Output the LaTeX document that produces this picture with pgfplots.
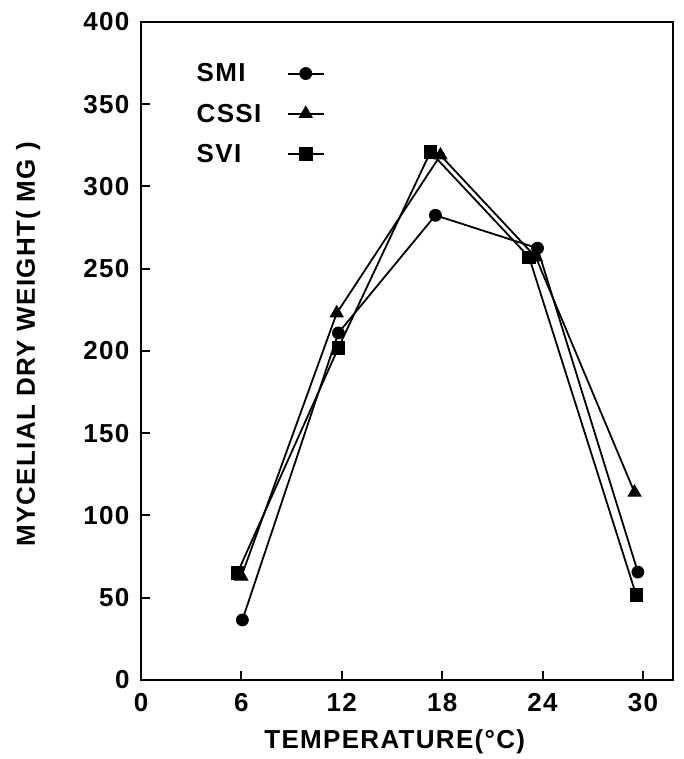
\documentclass[border=0pt]{standalone}
\usepackage{fontspec}
\setmainfont{Liberation Sans}[LetterSpace=5]
\usepackage{pgfplots}
\pgfplotsset{compat=1.18}
\begin{document}
\begin{tikzpicture}
\begin{axis}[
  name=ax,
  scale only axis,
  width=532pt, height=658pt,
  xmin=0, xmax=31.8, ymin=0, ymax=400,
  xtick={0,6,12,18,24,30},
  ytick={0,50,...,400},
  xtick pos=bottom, ytick pos=left,
  tick align=inside,
  major tick length=9pt,
  axis line style={line width=2pt},
  tick style={line width=2pt, black},
  /pgf/number format/assume math mode=true,
  ticklabel style={font=\fontsize{26}{30}\selectfont\bfseries},
  xticklabel style={yshift=-10pt},
  yticklabel style={xshift=-8pt},
  label style={font=\fontsize{26}{30}\selectfont\bfseries},
  xlabel={TEMPERATURE(°C)},
  ylabel={MYCELIAL DRY WEIGHT( MG )},
  ylabel style={at={(axis description cs:-0.212,0.51)}, anchor=center},
  xlabel style={at={(axis description cs:0.477,-0.094)}, anchor=center},
  legend style={draw=none, fill=none, at={(0.095,0.943)}, anchor=north west,
    font=\fontsize{26}{30}\selectfont\bfseries, row sep=16.5pt, column sep=4pt,
    cells={anchor=west}},
  legend plot pos=right,
  legend image code/.code={
    \draw[#1, line width=2pt] (0pt,0pt) -- (36pt,0pt);
    \draw[#1, mark repeat=2, mark phase=2] plot coordinates {(0pt,0pt) (18pt,0pt) (36pt,0pt)};
  },
  every axis plot/.append style={black, line width=1.8pt, mark options={solid, fill=black, line width=0.8pt}},
]
\addplot[mark=*, mark size=6pt] coordinates {
  (6.06,36.5) (11.8,211) (17.6,282.5) (23.7,262.5) (29.7,65.6)
};
\addlegendentry{\makebox[84pt][l]{SMI}}
\addplot[mark=triangle*, mark size=7.5pt] coordinates {
  (6.0,63) (11.7,223) (17.9,319) (23.6,257) (29.5,114)
};
\addlegendentry{\makebox[84pt][l]{CSSI}}
\addplot[mark=square*, mark size=6.3pt] coordinates {
  (5.76,65) (11.8,202) (17.3,321) (23.2,257) (29.6,51.6)
};
\addlegendentry{\makebox[84pt][l]{SVI}}
\end{axis}
\pgfresetboundingbox
\path[use as bounding box] ([xshift=-141pt,yshift=-79pt]ax.south west) rectangle ([xshift=10pt,yshift=22pt]ax.north east);
\end{tikzpicture}
\end{document}
